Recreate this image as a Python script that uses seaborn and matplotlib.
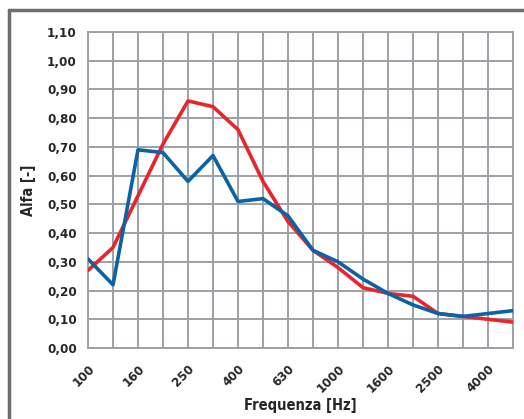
import matplotlib
matplotlib.use("Agg")
import matplotlib.pyplot as plt
import matplotlib.lines as mlines
import pandas as pd
import seaborn as sns

freqs = ["100", "125", "160", "200", "250", "315", "400", "500", "630",
         "800", "1000", "1250", "1600", "2000", "2500", "3150", "4000", "5000"]
red_vals = [0.27, 0.35, 0.53, 0.71, 0.86, 0.84, 0.76, 0.58, 0.44,
            0.34, 0.28, 0.21, 0.19, 0.18, 0.12, 0.11, 0.10, 0.09]
blue_vals = [0.31, 0.22, 0.69, 0.68, 0.58, 0.67, 0.51, 0.52, 0.46,
             0.34, 0.30, 0.24, 0.19, 0.15, 0.12, 0.11, 0.12, 0.13]
shown_labels = ["100", "160", "250", "400", "630", "1000", "1600", "2500", "4000"]
yticks = [0.0, 0.1, 0.2, 0.3, 0.4, 0.5, 0.6, 0.7, 0.8, 0.9, 1.0, 1.1]

df = pd.DataFrame({
    "freq": freqs * 2,
    "alfa": red_vals + blue_vals,
    "serie": ["rosso"] * len(freqs) + ["blu"] * len(freqs),
})

sns.set_theme(style="white")
plt.rcParams['font.family'] = ['DejaVu Sans']
plt.rcParams['font.stretch'] = 'condensed'

fig = plt.figure(figsize=(5.24, 4.19), dpi=100)
ax = fig.add_axes([88/524, 1-348/419, 425/524, 316/419])

grid_c = "#9ba1a7"
sns.lineplot(data=df, x="freq", y="alfa", hue="serie",
             palette={"rosso": "#e8252b", "blu": "#0b62a4"},
             hue_order=["rosso", "blu"], linewidth=2.6, legend=False, ax=ax,
             zorder=3)

ax.set_xlim(0, len(freqs) - 1)
ax.set_ylim(0, 1.1)
ax.set_xticks(range(len(freqs)))
ax.set_xticklabels([f if f in shown_labels else "" for f in freqs],
                   rotation=45, ha="right", rotation_mode="anchor",
                   fontsize=9.5, fontweight="bold")
ax.set_yticks(yticks)
ax.set_yticklabels([f"{v:.2f}".replace(".", ",") for v in yticks],
                   fontsize=9.5, fontweight="bold")
ax.tick_params(axis="both", length=0, pad=8)
ax.tick_params(axis="x", pad=10)
ax.grid(True, color=grid_c, linewidth=1.4)
for s in ax.spines.values():
    s.set_color(grid_c)
    s.set_linewidth(1.4)
ax.set_xlabel("Frequenza [Hz]", fontsize=10.5, fontweight="bold", labelpad=2)
ax.set_ylabel("Alfa [-]", fontsize=10.5, fontweight="bold", labelpad=8)

# outer frame: only top and left edges are visible in the crop
top = 1 - 10/419
left = 9/524
fig.add_artist(mlines.Line2D([left, 1.0], [top, top], transform=fig.transFigure,
                             color="#6e6e6e", linewidth=2.5))
fig.add_artist(mlines.Line2D([left, left], [0, top], transform=fig.transFigure,
                             color="#6e6e6e", linewidth=2.5))

fig.savefig("out.png", dpi=100)
